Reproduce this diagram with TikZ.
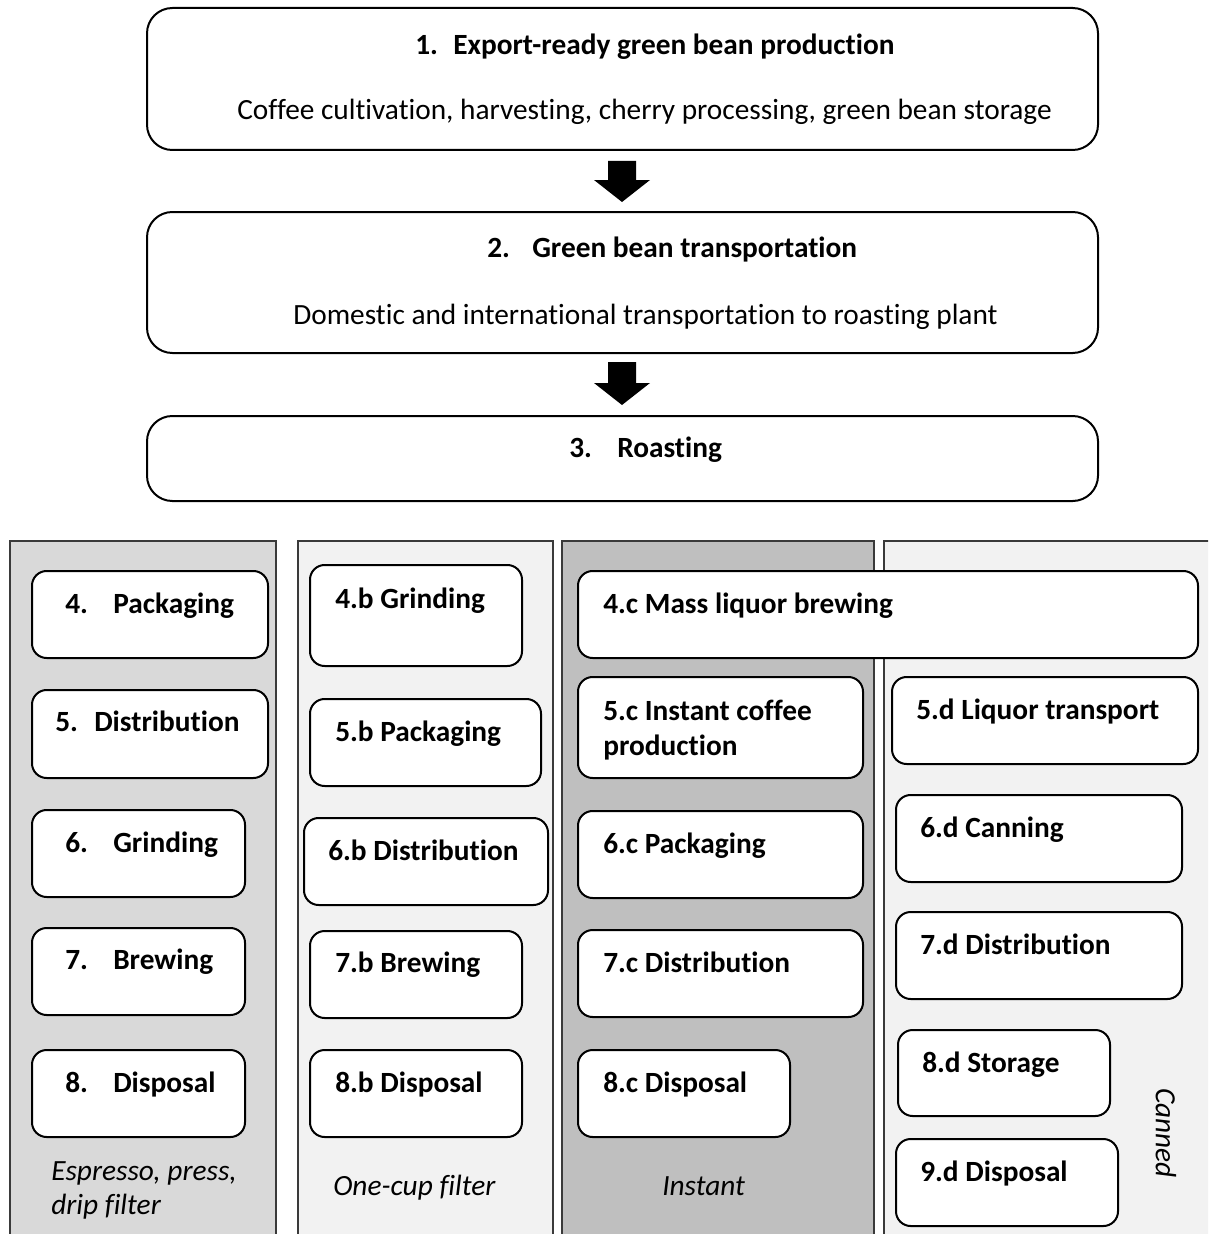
\documentclass[tikz,border=0pt]{standalone}
\usepackage{fontspec}
\setmainfont{Carlito}[Ligatures=NoCommon]
\usetikzlibrary{fit}
\newlength\pxu \setlength\pxu{0.75pt}
\newcommand\nm[2]{\makebox[#1\pxu][l]{#2}}
\definecolor{colA}{HTML}{D9D9D9}
\definecolor{colB}{HTML}{F2F2F2}
\definecolor{colC}{HTML}{BFBFBF}
\definecolor{edgec}{HTML}{3A3A3A}
\begin{document}
\begin{tikzpicture}[x=0.75pt,y=-0.75pt,
  box/.style={draw=black, line width=1.5pt, fill=white, rounded corners=11pt, inner sep=0pt},
  big/.style={box, rounded corners=19pt},
  colbox/.style={draw=edgec, line width=1pt, inner sep=0pt},
  lbl/.style={anchor=base west, inner sep=0pt, font=\fontsize{22pt}{26.5pt}\selectfont\bfseries},
  txt/.style={anchor=base west, inner sep=0pt, font=\fontsize{22pt}{26.5pt}\selectfont},
  ital/.style={anchor=base west, inner sep=0pt, font=\fontsize{22pt}{26.5pt}\selectfont\itshape},
  blk/.style={fill=black}]
\useasboundingbox (0,0) rectangle (1208,1234);
\clip (0,0) rectangle (1208,1234);
\fill[white] (0,0) rectangle (1208,1234);

% top boxes
\node[big, fit={(147,8) (1098,150)}] (t1) {};
\node[lbl] (t1a) at (415,54.5) {\nm{38}{1.}Export-ready green bean production};
\node[txt] (t1b) at (237,119.5) {Coffee cultivation, harvesting, cherry processing, green bean storage};

\node[big, fit={(147,212) (1098,353)}] (t2) {};
\node[lbl] (t2a) at (487,257.5) {\nm{45}{2.}Green bean transportation};
\node[txt] (t2b) at (293,324.5) {Domestic and international transportation to roasting plant};

\node[big, fit={(147,416) (1098,501)}] (t3) {};
\node[lbl] (t3a) at (569,457.5) {\nm{48}{3.}Roasting};

% block arrows
\coordinate (a1) at (622,161);
\fill[blk] (a1) ++(-14,0) -- ++(28,0) -- ++(0,19) -- ++(14,0) -- ++(-28,22) -- ++(-28,-22) -- ++(14,0) -- cycle;
\coordinate (a2) at (622,362);
\fill[blk] (a2) ++(-14,0) -- ++(28,0) -- ++(0,21) -- ++(14,0) -- ++(-28,22) -- ++(-28,-22) -- ++(14,0) -- cycle;

% columns
\node[colbox, fill=colA, fit={(10,541) (276,1260)}] (c1) {};
\node[colbox, fill=colB, fit={(298,541) (553,1260)}] (c2) {};
\node[colbox, fill=colC, fit={(562,541) (874,1260)}] (c3) {};
\node[colbox, fill=colB, fit={(884,541) (1230,1260)}] (c4) {};

% column 1
\node[box, fit={(32,571) (268,658)}] (b4) {};
\node[lbl] (l4) at (65,613.5) {\nm{48}{4.}Packaging};
\node[box, fit={(32,690) (268,778)}] (b5) {};
\node[lbl] (l5) at (55,731.5) {\nm{39}{5.}Distribution};
\node[box, fit={(32,810) (245,897)}] (b6) {};
\node[lbl] (l6) at (65,852.5) {\nm{48}{6.}Grinding};
\node[box, fit={(32,928) (245,1015)}] (b7) {};
\node[lbl] (l7) at (65,969.5) {\nm{48}{7.}Brewing};
\node[box, fit={(32,1050) (245,1137)}] (b8) {};
\node[lbl] (l8) at (65,1092.5) {\nm{48}{8.}Disposal};
\node[ital] (k1a) at (51,1180) {Espresso, press,};
\node[ital] (k1b) at (51,1214) {drip filter};

% column 2
\node[box, fit={(310,565) (522,666)}] (b4b) {};
\node[lbl] (l4b) at (335,608.5) {4.b Grinding};
\node[box, fit={(310,699) (541,786)}] (b5b) {};
\node[lbl] (l5b) at (335,741.5) {5.b Packaging};
\node[box, fit={(304,818) (548,905)}] (b6b) {};
\node[lbl] (l6b) at (328,860.5) {6.b Distribution};
\node[box, fit={(310,931) (522,1018)}] (b7b) {};
\node[lbl] (l7b) at (335,972.5) {7.b Brewing};
\node[box, fit={(310,1050) (522,1137)}] (b8b) {};
\node[lbl] (l8b) at (335,1092.5) {8.b Disposal};
\node[ital] (k2) at (333,1195) {One-cup filter};

% column 3
\node[box, fit={(578,571) (1198,658)}] (b4c) {};
\node[lbl] (l4c) at (603,613.5) {4.c Mass liquor brewing};
\node[box, fit={(578,677) (863,778)}] (b5c) {};
\node[lbl] (l5ca) at (603,720.5) {5.c Instant coffee};
\node[lbl] (l5cb) at (603,755.5) {production};
\node[box, fit={(578,811) (863,898)}] (b6c) {};
\node[lbl] (l6c) at (603,853.5) {6.c Packaging};
\node[box, fit={(578,930) (863,1017)}] (b7c) {};
\node[lbl] (l7c) at (603,972.5) {7.c Distribution};
\node[box, fit={(578,1050) (790,1137)}] (b8c) {};
\node[lbl] (l8c) at (603,1092.5) {8.c Disposal};
\node[ital] (k3) at (662,1195) {Instant};

% column 4
\node[box, fit={(892,677) (1198,764)}] (b5d) {};
\node[lbl] (l5d) at (916,719.5) {5.d Liquor transport};
\node[box, fit={(896,795) (1182,882)}] (b6d) {};
\node[lbl] (l6d) at (920,837.5) {6.d Canning};
\node[box, fit={(896,912) (1182,999)}] (b7d) {};
\node[lbl] (l7d) at (920,954.5) {7.d Distribution};
\node[box, fit={(898,1030) (1110,1116)}] (b8d) {};
\node[lbl] (l8d) at (922,1072.5) {8.d Storage};
\node[box, fit={(896,1139) (1118,1226)}] (b9d) {};
\node[lbl] (l9d) at (920,1181.5) {9.d Disposal};
\node[rotate=-90, inner sep=0pt, font=\fontsize{22pt}{26.5pt}\selectfont\itshape] (k4) at (1166,1133) {Canned};
\end{tikzpicture}
\end{document}
